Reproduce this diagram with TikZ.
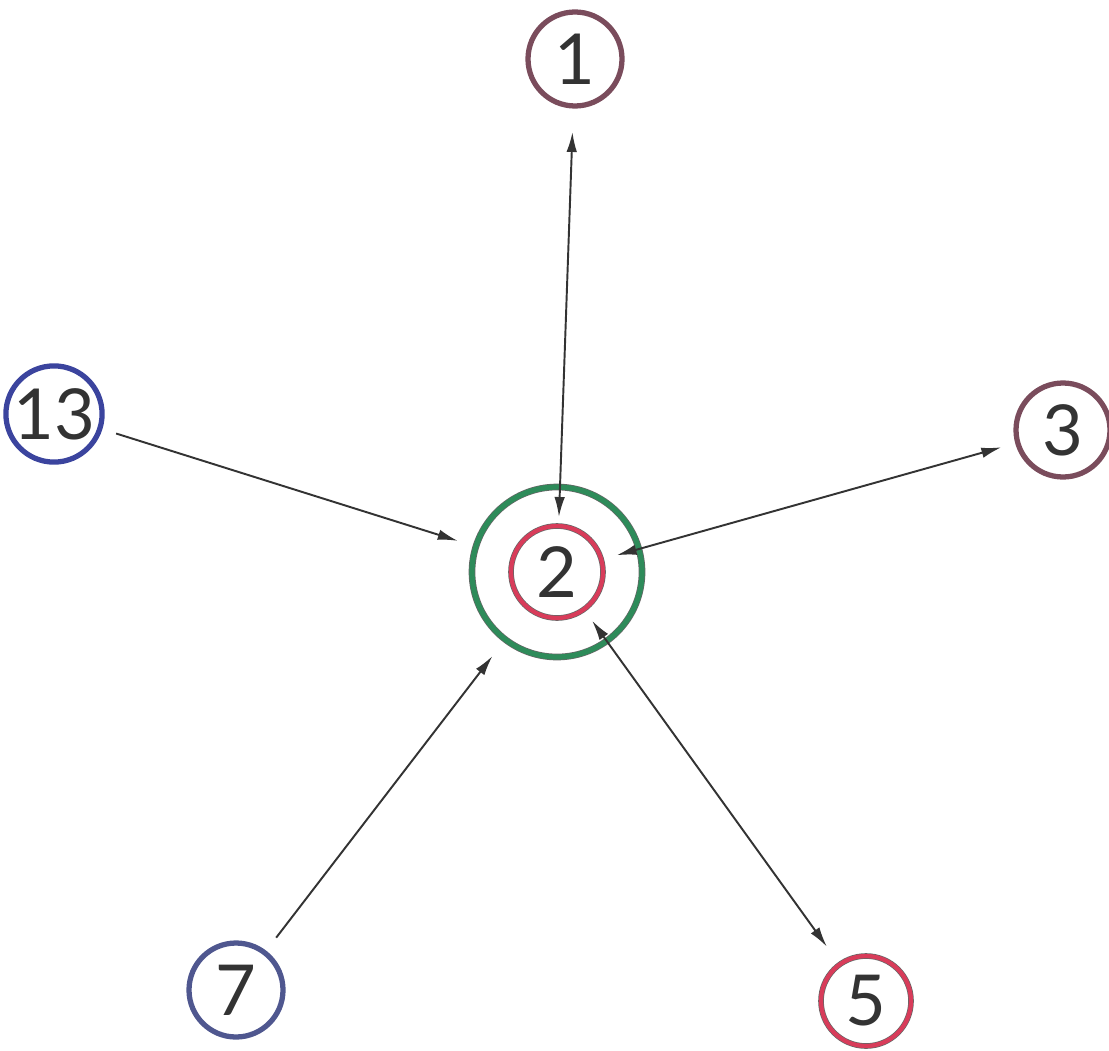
\documentclass[tikz,border=0pt]{standalone}
\usepackage{fontspec}
\setmainfont{Lato}
\usetikzlibrary{arrows.meta}
\definecolor{nbmaroon}{HTML}{7A4C5C}
\definecolor{nbblue}{HTML}{3B449E}
\definecolor{nbslate}{HTML}{4F578F}
\definecolor{nbred}{HTML}{D83C5A}
\definecolor{nbgreen}{HTML}{2E8B5A}
\definecolor{nbline}{HTML}{333333}

\begin{document}
\begin{tikzpicture}[
    numnode/.style={circle, minimum size=1.88cm, inner sep=0pt, outer sep=0pt,
      line width=3pt, font=\fontsize{40}{40}\selectfont, text=black!80},
    rednode/.style={numnode, draw=black!60, line width=0.4pt, double=nbred, double distance=2.4pt},
    link/.style={draw=nbline, line width=1.1pt, -{Latex[length=4mm,width=2.1mm]}},
    link2/.style={link, {Latex[length=4mm,width=2.1mm]}-{Latex[length=4mm,width=2.1mm]}}
  ]
  \useasboundingbox (0,0) rectangle (22.18,21);

  % Nodes
  \node[circle, minimum size=3.4cm, inner sep=0pt, outer sep=0pt, draw=black!60,
    line width=0.4pt, double=nbgreen, double distance=3pt] (ring) at (11.14,9.56) {};
  \node[rednode, minimum size=1.84cm] (two) at (11.14,9.56) {2};
  \node[numnode, draw=nbmaroon] (one) at (11.50,19.82) {1};
  \node[numnode, draw=nbmaroon] (three) at (21.26,12.40) {3};
  \node[numnode, draw=nbblue] (thirteen) at (1.08,12.72) {13};
  \node[numnode, draw=nbslate] (seven) at (4.72,1.20) {7};
  \node[rednode, minimum size=1.80cm] (five) at (17.32,0.98) {5};

  % Arrows
  \draw[link2, shorten <=0.52cm, shorten >=0.18cm] (one) -- (two);
  \draw[link, shorten <=0.34cm, shorten >=0.38cm] (thirteen) -- (ring);
  \draw[link2, shorten <=0.32cm, shorten >=0.34cm] (two) -- (three);
  \draw[link, shorten <=0.38cm, shorten >=0.42cm] (seven) -- (ring);
  \draw[link2, shorten <=0.28cm, shorten >=0.44cm] (two) -- (five);
\end{tikzpicture}
\end{document}
